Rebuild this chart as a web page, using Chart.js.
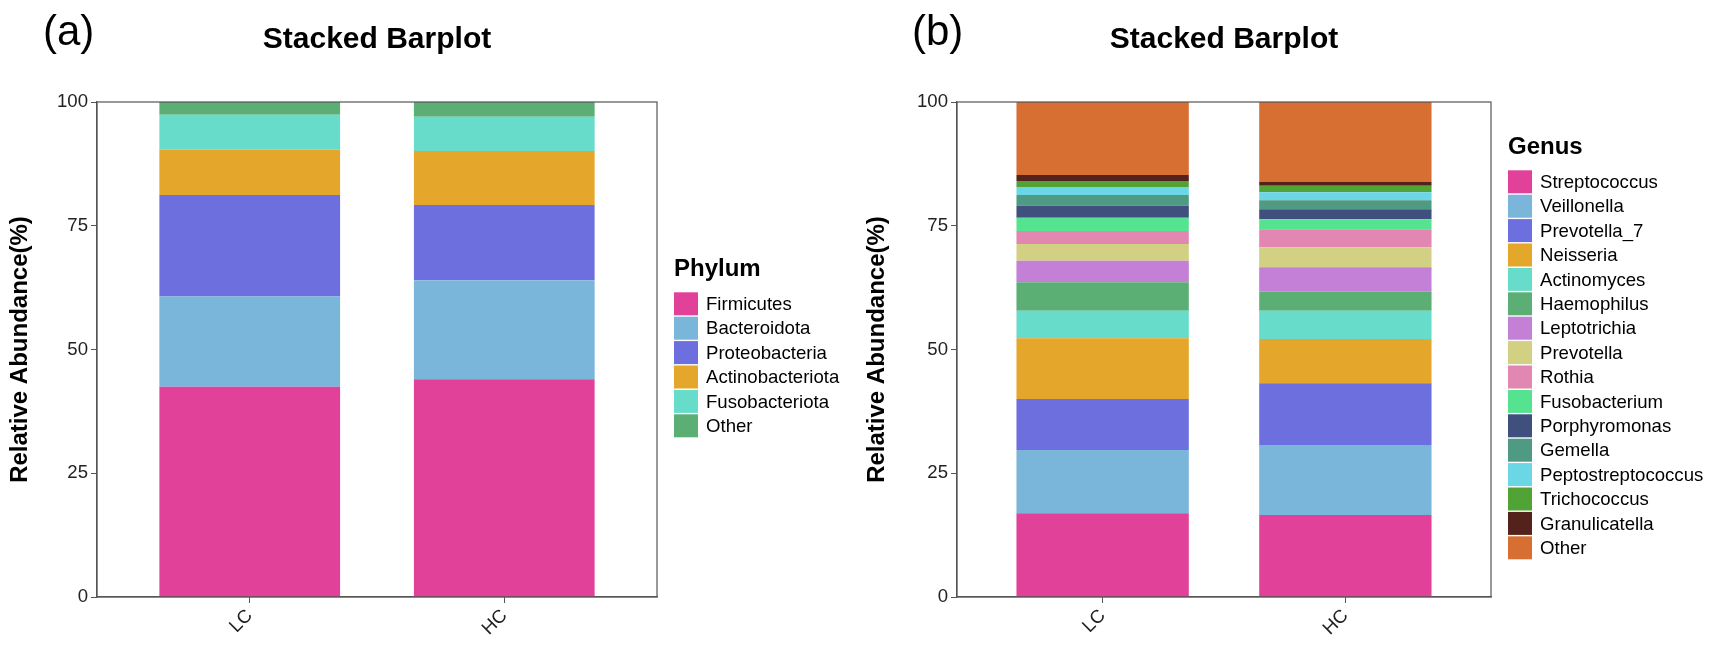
<!DOCTYPE html>
<html>
<head>
<meta charset="utf-8">
<script src="https://cdn.jsdelivr.net/npm/chart.js@4.4.1/dist/chart.umd.min.js"></script>
<style>
  html, body { margin:0; padding:0; background:#fff; overflow:hidden; }
  .wrap { position:relative; width:1714px; height:650px; }
  canvas { position:absolute; top:0; }
  #chartA { left:0; }
  #chartB { left:857px; }
</style>
</head>
<body>
<div class="wrap">
  <canvas id="chartA" width="857" height="650"></canvas>
  <canvas id="chartB" width="857" height="650"></canvas>
</div>
<script>
/* ======== DATA ======== */
const groups = ['LC', 'HC'];
const yTicks = [0, 25, 50, 75, 100];

const phylumNames = ['Firmicutes','Bacteroidota','Proteobacteria','Actinobacteriota','Fusobacteriota','Other'];
const phylumLC = [42.5, 18.2, 20.5, 9.2, 7.0, 2.6];
const phylumHC = [44.0, 20.0, 15.2, 10.9, 6.9, 3.0];
const phylumColors = ['#E2419A','#7AB5DA','#6E6FDE','#E5A62C','#68DCCB','#5BAF74'];

const genusNames = ['Streptococcus','Veillonella','Prevotella_7','Neisseria','Actinomyces','Haemophilus',
  'Leptotrichia','Prevotella','Rothia','Fusobacterium','Porphyromonas','Gemella',
  'Peptostreptococcus','Trichococcus','Granulicatella','Other'];
const genusLC = [16.9, 12.8, 10.3, 12.26, 5.58, 5.74, 4.36, 3.37, 2.63, 2.69, 2.42, 2.16, 1.62, 1.21, 1.21, 14.75];
const genusHC = [16.57, 14.14, 12.46, 8.95, 5.72, 3.84, 4.93, 4.04, 3.63, 2.02, 2.02, 1.82, 1.62, 1.33, 0.81, 16.1];
const genusColors = ['#E2419A','#7AB5DA','#6E6FDE','#E5A62C','#68DCCB','#5BAF74',
  '#C47FD6','#D2D083','#E286B2','#56E390','#3F4F7E','#4F9A83',
  '#6AD6E6','#52A335','#55221B','#D76F33'];

const FONT = '"Liberation Sans", Arial, Helvetica, sans-serif';
const AXIS = '#555';

/* ======== FRAME, TITLE, TAG, LEGEND ======== */
const panelDeco = {
  id: 'panelDeco',
  afterDraw(chart, args, opts){
    const {ctx, chartArea:a} = chart;
    ctx.save();
    // full panel border
    ctx.strokeStyle = AXIS; ctx.lineWidth = 1.2;
    ctx.strokeRect(a.left, a.top, a.right - a.left, a.bottom - a.top);

    ctx.fillStyle = '#000';
    ctx.textBaseline = 'alphabetic';
    ctx.font = 'bold 30px ' + FONT;
    ctx.textAlign = 'center';
    ctx.fillText(opts.title, (a.left + a.right) / 2, 48);
    ctx.font = '42px ' + FONT;
    ctx.textAlign = 'left';
    ctx.fillText(opts.tag, opts.tagX, 45);

    // legend (first dataset on top, like ggplot)
    const ds = chart.data.datasets;
    const step = 24.4, boxW = 24, boxH = 23;
    const top = (a.top + a.bottom) / 2 - (32 + ds.length * step) / 2;
    const x = a.right + 17;
    ctx.font = 'bold 24px ' + FONT;
    ctx.fillText(opts.legendTitle, x, top + 16);
    ctx.font = '18.6px ' + FONT;
    ctx.textBaseline = 'middle';
    ds.forEach((d, i) => {
      const y = top + 32 + i * step;
      ctx.fillStyle = d.backgroundColor;
      ctx.fillRect(x, y, boxW, boxH);
      ctx.fillStyle = '#000';
      ctx.fillText(d.label, x + boxW + 8, y + boxH / 2 + 1);
    });
    ctx.restore();
  }
};

function makePanel(id, names, lc, hc, colors, cfg){
  const datasets = names.map((name, i) => ({
    label: name,
    data: [ {x:1, y:lc[i]}, {x:2, y:hc[i]} ],
    backgroundColor: colors[i],
    borderWidth: 0,
    categoryPercentage: 1,
    barPercentage: 0.71
  }));
  return new Chart(document.getElementById(id), {
    type: 'bar',
    data: { datasets },
    plugins: [panelDeco],
    options: {
      responsive: false,
      animation: false,
      layout: { padding: { top: 102, right: cfg.padRight, left: 0, bottom: 0 } },
      plugins: {
        legend: { display: false },
        tooltip: { enabled: true },
        panelDeco: { title: 'Stacked Barplot', tag: cfg.tag, tagX: cfg.tagX, legendTitle: cfg.legendTitle }
      },
      scales: {
        x: {
          type: 'linear', stacked: true, offset: false,
          min: 0.4, max: 2.6,
          afterBuildTicks: s => { s.ticks = groups.map((g, i) => ({ value: i + 1 })); },
          afterFit: s => { s.height = 53; },
          grid: { drawOnChartArea: false, drawTicks: true, tickLength: 6, color: AXIS, offset: false },
          border: { display: true, color: AXIS, width: 1.2 },
          ticks: {
            autoSkip: false, minRotation: 45, maxRotation: 45, padding: 2,
            color: '#222', font: { family: FONT, size: 18.6 },
            callback: v => groups[v - 1] || ''
          }
        },
        y: {
          stacked: true, min: 0, max: 100,
          afterBuildTicks: s => { s.ticks = yTicks.map(v => ({ value: v })); },
          afterFit: s => { s.width = cfg.yWidth; },
          grid: { drawOnChartArea: false, drawTicks: true, tickLength: 6, color: AXIS },
          border: { display: true, color: AXIS, width: 1.2 },
          ticks: { padding: 3, color: '#222', font: { family: FONT, size: 18.6 } },
          title: {
            display: true, text: 'Relative Abundance(%)', color: '#000',
            font: { family: FONT, size: 24, weight: 'bold' },
            padding: { top: 6, bottom: 0 }
          }
        }
      }
    }
  });
}

document.addEventListener('DOMContentLoaded', () => {
  makePanel('chartA', phylumNames, phylumLC, phylumHC, phylumColors,
    { tag: '(a)', tagX: 43, legendTitle: 'Phylum', yWidth: 97, padRight: 200 });
  makePanel('chartB', genusNames, genusLC, genusHC, genusColors,
    { tag: '(b)', tagX: 55, legendTitle: 'Genus', yWidth: 100, padRight: 223 });
});
</script>
</body>
</html>
